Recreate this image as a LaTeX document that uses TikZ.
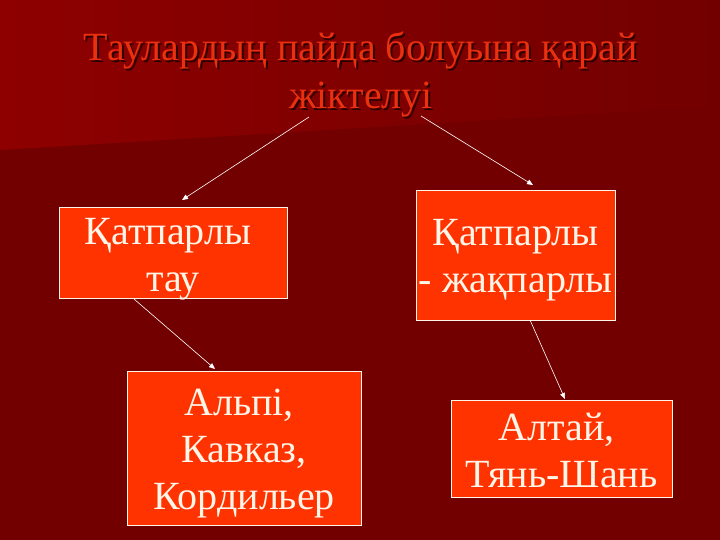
\documentclass[tikz,border=0pt]{standalone}
\usepackage{fontspec}
\setmainfont{Liberation Serif}
\usetikzlibrary{positioning,calc}
\usetikzlibrary{arrows.meta}
\definecolor{slidebg}{RGB}{115,0,0}
\definecolor{slideband}{RGB}{142,0,0}
\definecolor{boxfill}{RGB}{255,51,0}
\definecolor{boxtext}{RGB}{255,245,232}
\definecolor{titlered}{RGB}{235,48,16}
\definecolor{titleshadow}{RGB}{45,0,0}

\begin{document}
\begin{tikzpicture}[x=1pt,y=-1pt,
         kind/.style = {draw=boxtext,line width=0.6pt,fill=boxfill,
         inner sep=0pt,outer sep=0pt},
         kindtext/.style = {text=boxtext,font=\fontsize{40}{47}\selectfont,
         align=center,inner sep=0pt,outer sep=0pt},
         heading/.style = {font=\fontsize{40}{47.5}\selectfont,align=center,
         inner sep=0pt,anchor=north},
         link/.style = {draw=white,line width=0.6pt,
         -{Triangle[width=5pt,length=6pt]}}
]

      % slide background
      \fill[slidebg] (0,0) rectangle (720,540);
      \shade[left color=slideband,right color=slidebg]
      (0,0) -- (720,0) -- (720,106) -- (0,150) -- cycle;
      \useasboundingbox (0,0) rectangle (720,540);

      % title with its shadow
      \node[heading,text=titleshadow] (t0s) at (363,34)
      {Таулардың пайда болуына қарай\\жіктелуі};
      \node[heading,text=titlered] (t0) at (361,32)
      {Таулардың пайда болуына қарай\\жіктелуі};

      \coordinate (t1) at (309,117);
      \coordinate (t2) at (421,116);

      % first level
      \node[kind,minimum width=228pt,minimum height=91pt]  (f1) at (173,252.5) {};
      \node[kind,minimum width=199pt,minimum height=130pt] (f2) at (515.5,255) {};

      \node[kindtext,below=11.5pt of f1.north] (f1t) {Қатпарлы\hspace*{.25em}\\тау};
      \node[kindtext,below=29.5pt of f2.north] (f2t) {Қатпарлы\\- жақпарлы};

      % second level
      \node[kind,minimum width=234pt,minimum height=154pt] (r1) at (244,448) {};
      \node[kind,minimum width=221pt,minimum height=97pt]  (r2) at (561.5,448.5) {};

      \node[kindtext,below=18pt of r1.north]   (r1t)
      {Альпі,\hspace*{.25em}\\Кавказ,\\Кордильер};
      \node[kindtext,below=13.5pt of r2.north] (r2t)
      {Алтай,\hspace*{.25em}\\Тянь-Шань};

      % arrows
      \draw[link] (t1) -- ($(f1.north)+(9,-7)$);
      \draw[link] (t2) -- ($(f2.north)+(17.5,-5)$);
      \draw[link] ($(f1.south)+(-39,1)$) -- ($(r1.north)+(-29,-2)$);
      \draw[link] ($(f2.south)+(14.5,0)$) -- ($(r2.north)+(3.5,-1)$);

   \end{tikzpicture}
\end{document}
